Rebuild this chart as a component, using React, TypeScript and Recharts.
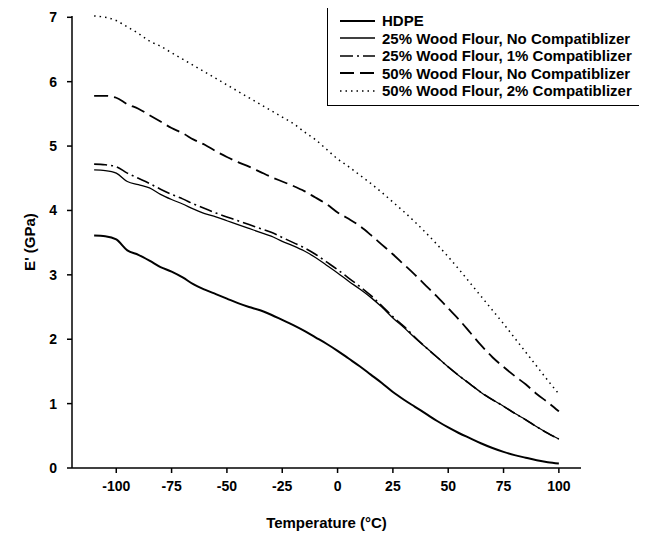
import React from 'react';
import { LineChart, Line, XAxis, YAxis } from 'recharts';

const temps = [
  -110, -105, -100, -95, -90, -85, -80, -75, -70, -65, -60, -55, -50, -45, -40, -35, -30, -25, -20, -15, -10, -5,
  0, 5, 10, 15, 20, 25, 30, 35, 40, 45, 50, 55, 60, 65, 70, 75, 80, 85, 90, 95, 100,
];

const hdpe = [
  3.61, 3.6, 3.55, 3.38, 3.31, 3.22, 3.12, 3.05, 2.96, 2.85, 2.77, 2.7, 2.63, 2.56, 2.5, 2.45, 2.38, 2.3, 2.22, 2.13, 2.03, 1.93,
  1.82, 1.7, 1.58, 1.45, 1.32, 1.18, 1.06, 0.95, 0.84, 0.73, 0.63, 0.54, 0.46, 0.38, 0.31, 0.25, 0.2, 0.16, 0.12, 0.09, 0.07,
];

const wf25NoComp = [
  4.63, 4.62, 4.58, 4.45, 4.4, 4.35, 4.25, 4.17, 4.1, 4.02, 3.95, 3.9, 3.84, 3.78, 3.72, 3.66, 3.6, 3.52, 3.45, 3.37, 3.27, 3.15,
  3.03, 2.9, 2.78, 2.65, 2.5, 2.33, 2.18, 2.02, 1.87, 1.72, 1.57, 1.43, 1.3, 1.17, 1.06, 0.96, 0.85, 0.75, 0.64, 0.54, 0.45,
];

const wf25Comp1 = [
  4.72, 4.71, 4.68, 4.58, 4.5, 4.42, 4.33, 4.25, 4.18, 4.1, 4.03, 3.96, 3.9, 3.84, 3.78, 3.72, 3.66, 3.58, 3.5, 3.42, 3.32, 3.2,
  3.08, 2.95, 2.82, 2.68, 2.52, 2.35, 2.2, 2.03, 1.87, 1.72, 1.57, 1.43, 1.3, 1.17, 1.06, 0.96, 0.85, 0.75, 0.64, 0.54, 0.45,
];

const wf50NoComp = [
  5.78, 5.78, 5.75, 5.65, 5.58, 5.48, 5.38, 5.28, 5.2, 5.1, 5.02, 4.92, 4.83, 4.75, 4.68, 4.6, 4.52, 4.45, 4.38, 4.3, 4.2, 4.1,
  3.97, 3.87, 3.76, 3.62, 3.47, 3.32, 3.16, 3.0, 2.83, 2.66, 2.48, 2.3, 2.1, 1.9, 1.72, 1.57, 1.43, 1.3, 1.15, 1.02, 0.88,
];

const wf50Comp2 = [
  7.02, 7.0, 6.95, 6.85, 6.75, 6.63, 6.55, 6.45, 6.35, 6.25, 6.15, 6.05, 5.95, 5.85, 5.75, 5.65, 5.55, 5.45, 5.35, 5.22, 5.1, 4.95,
  4.8, 4.68, 4.55, 4.42, 4.28, 4.13, 3.98, 3.82, 3.65, 3.47, 3.28, 3.08, 2.87, 2.66, 2.45, 2.24, 2.02, 1.8, 1.58, 1.36, 1.15,
];

const xTicks = [-100, -75, -50, -25, 0, 25, 50, 75, 100];
const yTicks = [0, 1, 2, 3, 4, 5, 6, 7];

const series = [
  { key: 'hdpe', name: 'HDPE', width: 2, dash: undefined },
  { key: 'wf25NoComp', name: '25% Wood Flour, No Compatiblizer', width: 1.3, dash: undefined },
  { key: 'wf25Comp1', name: '25% Wood Flour, 1% Compatiblizer', width: 1.6, dash: '13 4 2 4' },
  { key: 'wf50NoComp', name: '50% Wood Flour, No Compatiblizer', width: 1.8, dash: '14 6' },
  { key: 'wf50Comp2', name: '50% Wood Flour, 2% Compatiblizer', width: 1.5, dash: '1.5 4' },
];

const data = temps.map((t, i) => ({
  t,
  hdpe: hdpe[i],
  wf25NoComp: wf25NoComp[i],
  wf25Comp1: wf25Comp1[i],
  wf50NoComp: wf50NoComp[i],
  wf50Comp2: wf50Comp2[i],
}));

const font = '"Liberation Sans", Arial, sans-serif';

// legend box sits on top of the plot, upper right
const LegendBox = () => (
  <div
    style={{
      position: 'absolute',
      left: 319,
      top: -3,
      width: 315,
      border: '1.5px solid #000',
      background: '#fff',
      padding: '6px 0 5px 12px',
      fontFamily: font,
      boxSizing: 'border-box',
    }}
  >
    {series.map((s) => (
      <div key={s.key} style={{ display: 'flex', alignItems: 'center', height: 17.5 }}>
        <svg width={37} height={10} style={{ marginRight: 5 }}>
          <line x1={0} y1={5} x2={35} y2={5} stroke="#000" strokeWidth={s.width} strokeDasharray={s.dash} />
        </svg>
        <span style={{ fontSize: 15, fontWeight: 'bold', color: '#000', whiteSpace: 'nowrap' }}>{s.name}</span>
      </div>
    ))}
  </div>
);

export default function App() {
  return (
    <div style={{ position: 'relative', width: 639, height: 529 }}>
      <LineChart width={639} height={529} data={data} margin={{ top: 8, right: 66, left: 8, bottom: 9 }}>
        <XAxis
          dataKey="t"
          type="number"
          domain={[-120, 110]}
          ticks={xTicks}
          stroke="#000"
          strokeWidth={1.5}
          tickSize={5}
          tickMargin={8}
          height={60}
          tick={{ fill: '#000', fontSize: 14, fontWeight: 'bold', fontFamily: font }}
          label={{ value: 'Temperature (°C)', position: 'insideBottom', offset: 0, fill: '#000', fontSize: 15, fontWeight: 'bold', fontFamily: font }}
        />
        <YAxis
          type="number"
          domain={[0, 7]}
          ticks={yTicks}
          stroke="#000"
          strokeWidth={1.5}
          tickSize={5}
          tickMargin={10}
          width={56}
          tick={{ fill: '#000', fontSize: 14, fontWeight: 'bold', fontFamily: font }}
          label={{ value: "E' (GPa)", angle: -90, position: 'insideLeft', offset: 14, style: { textAnchor: 'middle' }, fill: '#000', fontSize: 15, fontWeight: 'bold', fontFamily: font }}
        />
        {series.map((s) => (
          <Line
            key={s.key}
            dataKey={s.key}
            name={s.name}
            type="monotone"
            stroke="#000"
            strokeWidth={s.width}
            strokeDasharray={s.dash}
            dot={false}
            isAnimationActive={false}
          />
        ))}
      </LineChart>
      <LegendBox />
    </div>
  );
}
